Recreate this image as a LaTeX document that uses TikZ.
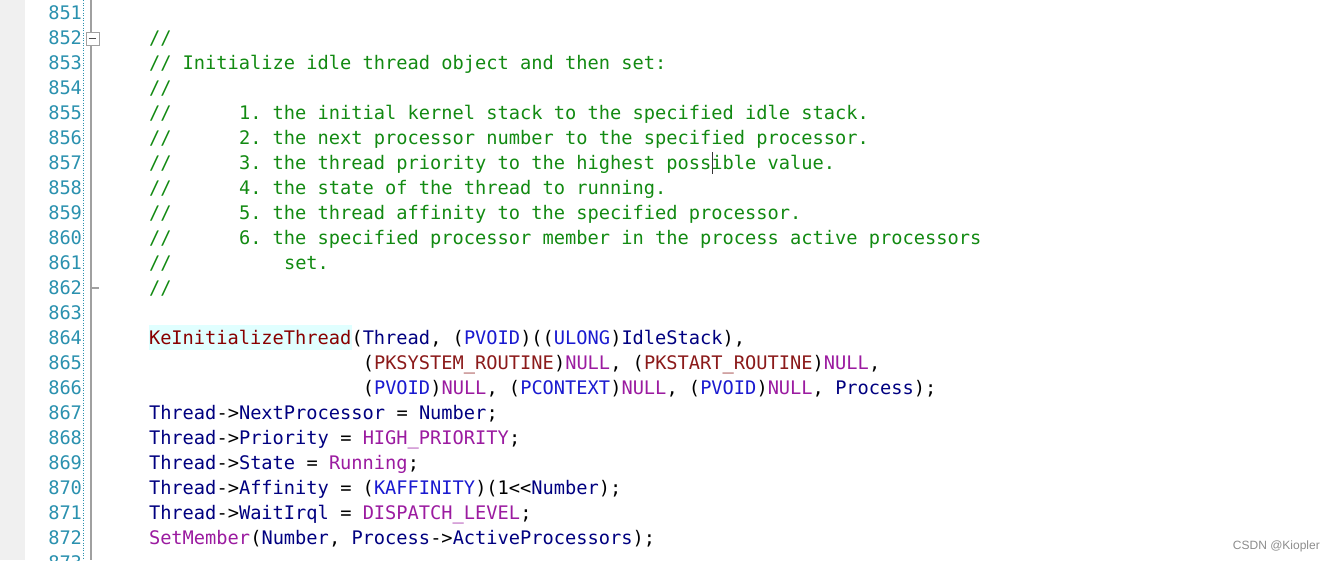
\documentclass[tikz,border=0pt]{standalone}
\usepackage{fontspec}
\newfontfamily\codefont[Ligatures=TeXOff]{DejaVu Sans Mono}
\newfontfamily\wmfont{Liberation Sans}
\newlength\cwl
\setlength\cwl{11.25pt}
\definecolor{cmt}{HTML}{128A12}
\definecolor{lnumc}{HTML}{2B91AF}
\definecolor{varc}{HTML}{000080}
\definecolor{fnc}{HTML}{880000}
\definecolor{typc}{HTML}{1A1AD0}
\definecolor{macc}{HTML}{9B1BA0}
\definecolor{utc}{HTML}{8B1A1A}
\definecolor{gutter}{HTML}{F0F0F0}
\definecolor{hl}{HTML}{E0FFFF}
\definecolor{foldc}{HTML}{A0A0A0}
\definecolor{wmc}{HTML}{8C8C8C}
\newcommand{\V}[1]{\textcolor{varc}{#1}}
\newcommand{\T}[1]{\textcolor{typc}{#1}}
\newcommand{\M}[1]{\textcolor{macc}{#1}}
\newcommand{\F}[1]{\textcolor{fnc}{#1}}
\newcommand{\U}[1]{\textcolor{utc}{#1}}
\newcommand{\cspc}[1]{\hspace*{#1\cwl}}
\tikzset{
  codeline/.style={anchor=base west, inner sep=0pt, outer sep=0pt,
    font=\codefont\fontsize{18.686pt}{22pt}\selectfont\frenchspacing},
  cmtline/.style={codeline, text=cmt},
  lnumline/.style={anchor=base east, inner sep=0pt, outer sep=0pt, text=lnumc,
    font=\codefont\fontsize{18.686pt}{22pt}\selectfont}
}
\begin{document}
\begin{tikzpicture}[x=1pt,y=-1pt]
\useasboundingbox (0,0) rectangle (1335,560);
\clip (0,0) rectangle (1335,560);
% gutter
\fill[gutter] (0,0) rectangle (25,560);
\draw[lnumc, line width=0.8pt, dash pattern=on 1pt off 1.5pt] (83.5,0) -- (83.5,560);
\draw[foldc, line width=1.4pt] (91,0) -- (91,560);
% fold box at 852
\node[draw=foldc, fill=white, line width=0.9pt, minimum size=13pt, inner sep=0pt] (foldbox) at (92.5,38.5) {};
\draw[black!70, line width=1pt] ([xshift=3pt]foldbox.west) -- ([xshift=-3pt]foldbox.east);
% tick at 862
\coordinate (tickA) at (91,288);
\coordinate (tickB) at (99,288);
\draw[foldc, line width=1.2pt] (tickA) -- (tickB);
% line numbers
\foreach \n [count=\k from 0] in {851,...,873} {
  \node[lnumline] (ln\n) at (82, 19.5+25*\k) {\n};
}
% highlight
\fill[hl] (149,325) rectangle (351.5,349.5);
% comment lines
\node[cmtline] (c852) at (149, 44.5) {//};
\node[cmtline] (c853) at (149, 69.5) {// Initialize idle thread object and then set:};
\node[cmtline] (c854) at (149, 94.5) {//};
\node[cmtline] (c855) at (149,119.5) {//\cspc{6}1. the initial kernel stack to the specified idle stack.};
\node[cmtline] (c856) at (149,144.5) {//\cspc{6}2. the next processor number to the specified processor.};
\node[cmtline] (c857) at (149,169.5) {//\cspc{6}3. the thread priority to the highest possible value.};
\node[cmtline] (c858) at (149,194.5) {//\cspc{6}4. the state of the thread to running.};
\node[cmtline] (c859) at (149,219.5) {//\cspc{6}5. the thread affinity to the specified processor.};
\node[cmtline] (c860) at (149,244.5) {//\cspc{6}6. the specified processor member in the process active processors};
\node[cmtline] (c861) at (149,269.5) {//\cspc{10}set.};
\node[cmtline] (c862) at (149,294.5) {//};
% code lines
\node[codeline] (c864) at (149,344.5) {\F{KeInitializeThread}(\V{Thread}, (\T{PVOID})((\T{ULONG})\V{IdleStack}),};
\node[codeline] (c865) at (149,369.5) {\cspc{19}(\U{PKSYSTEM\_ROUTINE})\M{NULL}, (\U{PKSTART\_ROUTINE})\M{NULL},};
\node[codeline] (c866) at (149,394.5) {\cspc{19}(\T{PVOID})\M{NULL}, (\T{PCONTEXT})\M{NULL}, (\T{PVOID})\M{NULL}, \V{Process});};
\node[codeline] (c867) at (149,419.5) {\V{Thread}->\V{NextProcessor} = \V{Number};};
\node[codeline] (c868) at (149,444.5) {\V{Thread}->\V{Priority} = \M{HIGH\_PRIORITY};};
\node[codeline] (c869) at (149,469.5) {\V{Thread}->\V{State} = \M{Running};};
\node[codeline] (c870) at (149,494.5) {\V{Thread}->\V{Affinity} = (\T{KAFFINITY})(1<<\V{Number});};
\node[codeline] (c871) at (149,519.5) {\V{Thread}->\V{WaitIrql} = \M{DISPATCH\_LEVEL};};
\node[codeline] (c872) at (149,544.5) {\M{SetMember}(\V{Number}, \V{Process}->\V{ActiveProcessors});};
% text cursor
\coordinate (curA) at (712,152);
\coordinate (curB) at (712,174);
\draw[black!80, line width=1pt] (curA) -- (curB);
% watermark
\node[anchor=base east, inner sep=0pt, text=wmc, font=\wmfont\fontsize{12pt}{14pt}\selectfont] (wm) at (1320,549) {CSDN @Kiopler};
\end{tikzpicture}
\end{document}
